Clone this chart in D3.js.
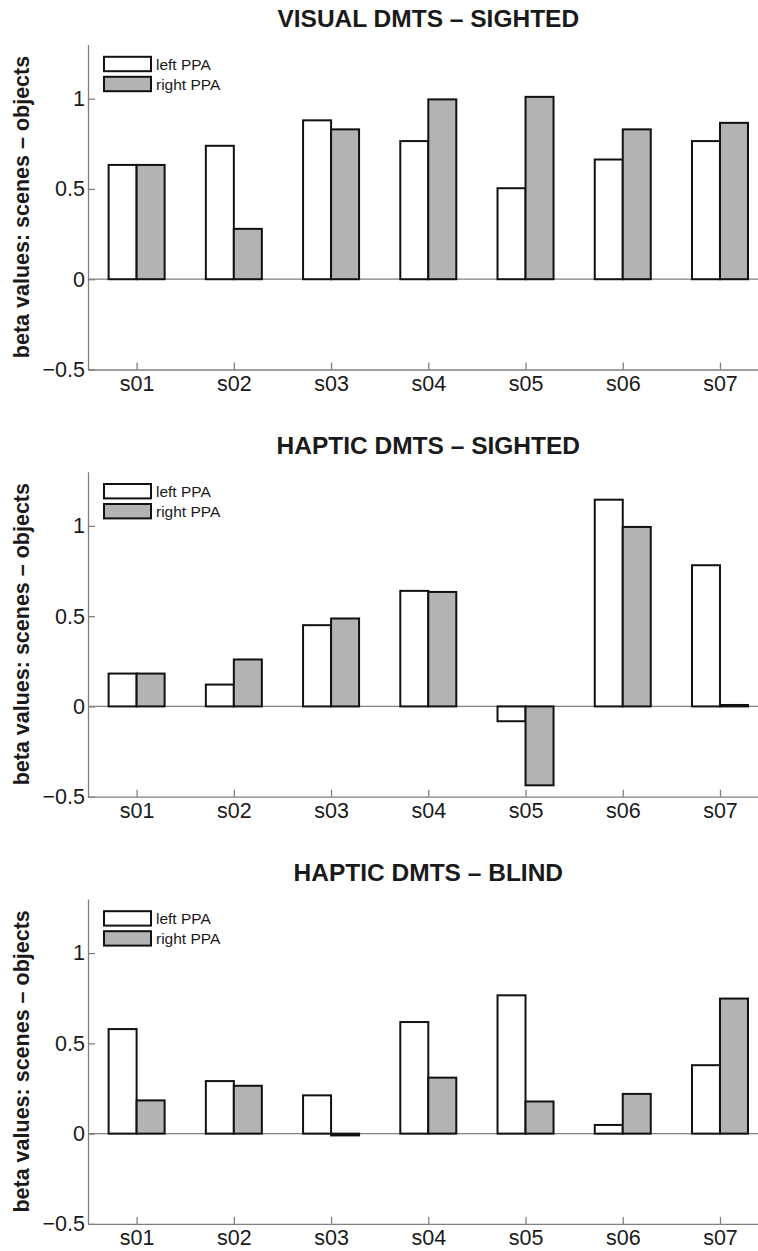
<!DOCTYPE html>
<html>
<head>
<meta charset="utf-8">
<script src="https://cdn.jsdelivr.net/npm/d3@7"></script>
<style>
  body { margin: 0; background: #fff; }
  text { font-family: "Liberation Sans", Arial, Helvetica, sans-serif; fill: #1a1a1a; }
</style>
</head>
<body>
<script>
var subjects = ["s01", "s02", "s03", "s04", "s05", "s06", "s07"];
var seriesNames = ["left PPA", "right PPA"];
var yTicks = [-0.5, 0, 0.5, 1];
var panelTitles = ["VISUAL DMTS \u2013 SIGHTED", "HAPTIC DMTS \u2013 SIGHTED", "HAPTIC DMTS \u2013 BLIND"];
var yLabel = "beta values: scenes \u2013 objects";

var visualSightedLeft  = [0.633, 0.739, 0.880, 0.765, 0.504, 0.663, 0.765];
var visualSightedRight = [0.633, 0.279, 0.830, 0.996, 1.010, 0.830, 0.866];
var hapticSightedLeft  = [0.182, 0.121, 0.450, 0.640, -0.082, 1.145, 0.782];
var hapticSightedRight = [0.182, 0.260, 0.487, 0.634, -0.437, 0.994, 0.008];
var hapticBlindLeft    = [0.579, 0.291, 0.212, 0.618, 0.766, 0.048, 0.379];
var hapticBlindRight   = [0.184, 0.265, -0.010, 0.310, 0.178, 0.220, 0.748];

var panels = [
    { title: panelTitles[0], series: [visualSightedLeft, visualSightedRight] },
    { title: panelTitles[1], series: [hapticSightedLeft, hapticSightedRight] },
    { title: panelTitles[2], series: [hapticBlindLeft, hapticBlindRight] }
];

(function () {
    var width = 758;
    var height = 1251;
    var axLeft = 88;
    var axRight = 768.6;
    var axTop0 = 44.5;
    var axHeight = 325;
    var panelStep = 427.2;
    var barW = 0.288;
    var fills = ["#ffffff", "#b3b3b3"];
    var axisColor = "#808080";

    var svg = d3.select("body").append("svg")
        .attr("width", width)
        .attr("height", height);

    var xScale = d3.scaleLinear().domain([0.5, 7.5]).range([axLeft, axRight]);

    panels.forEach(function (panel, p) {
        var top = axTop0 + p * panelStep;
        var yScale = d3.scaleLinear().domain([-0.5, 1.3]).range([top + axHeight, top]);
        var g = svg.append("g");

        // title
        g.append("text")
            .attr("x", (axLeft + axRight) / 2)
            .attr("y", top - 18)
            .attr("text-anchor", "middle")
            .style("font-size", "24.5px")
            .style("font-weight", "bold")
            .text(panel.title);

        // y label
        g.append("text")
            .attr("transform", "translate(29," + (top + axHeight / 2) + ") rotate(-90)")
            .attr("text-anchor", "middle")
            .style("font-size", "21.5px")
            .style("font-weight", "bold")
            .text(yLabel);

        // zero line
        g.append("line")
            .attr("x1", axLeft).attr("x2", axRight)
            .attr("y1", yScale(0)).attr("y2", yScale(0))
            .attr("stroke", axisColor)
            .attr("stroke-width", 1.3);

        // bars
        panel.series.forEach(function (vals, s) {
            g.selectAll(".bar" + s)
                .data(vals)
                .enter().append("rect")
                .attr("x", function (d, i) { return xScale(i + 1 + (s === 0 ? -barW : 0)); })
                .attr("width", xScale(barW) - xScale(0))
                .attr("y", function (d) { return yScale(Math.max(0, d)); })
                .attr("height", function (d) { return Math.abs(yScale(d) - yScale(0)); })
                .attr("fill", fills[s])
                .attr("stroke", "#111")
                .attr("stroke-width", 2);
        });

        // axes
        var yAxisGen = d3.axisLeft(yScale)
            .tickValues(yTicks)
            .tickSizeInner(-7)
            .tickSizeOuter(0)
            .tickPadding(3)
            .tickFormat(function (d) { return String(d).replace("-", "\u2212"); });
        var yAxis = g.append("g")
            .attr("transform", "translate(" + axLeft + ",0)")
            .call(yAxisGen);

        var xAxisGen = d3.axisBottom(xScale)
            .tickValues(d3.range(1, subjects.length + 1))
            .tickSizeInner(-7)
            .tickSizeOuter(0)
            .tickPadding(6)
            .tickFormat(function (d) { return subjects[d - 1]; });
        var xAxis = g.append("g")
            .attr("transform", "translate(0," + (top + axHeight) + ")")
            .call(xAxisGen);

        [xAxis, yAxis].forEach(function (a) {
            a.select(".domain").attr("stroke", axisColor).attr("stroke-width", 1.3);
            a.selectAll(".tick line").attr("stroke", axisColor).attr("stroke-width", 1.3);
            a.selectAll(".tick text")
                .attr("fill", "#1a1a1a")
                .style("font-size", "21.5px")
                .style("font-family", "'Liberation Sans', Arial, Helvetica, sans-serif");
        });

        // legend
        var legend = g.append("g").attr("transform", "translate(104," + (top + 12.3) + ")");
        seriesNames.forEach(function (name, s) {
            legend.append("rect")
                .attr("x", 0).attr("y", s * 20)
                .attr("width", 47).attr("height", 14.4)
                .attr("fill", fills[s])
                .attr("stroke", "#111")
                .attr("stroke-width", 2);
            legend.append("text")
                .attr("x", 52).attr("y", s * 20 + 13)
                .style("font-size", "15.5px")
                .text(name);
        });
    });
})();
</script>
</body>
</html>
